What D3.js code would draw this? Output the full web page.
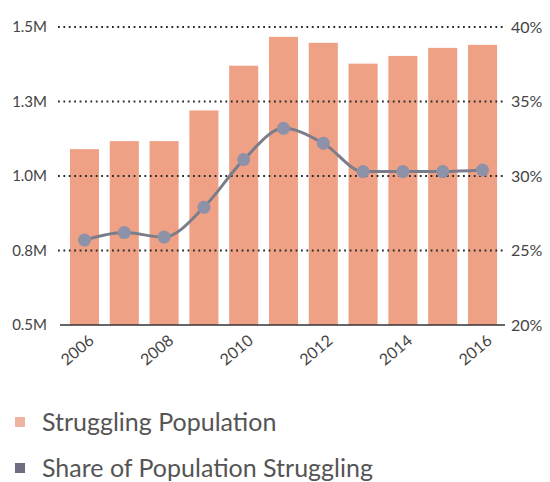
<!DOCTYPE html>
<html>
<head>
<meta charset="utf-8">
<script src="https://cdn.jsdelivr.net/npm/d3@7"></script>
<style>
  html, body { margin: 0; padding: 0; background: #ffffff; }
  svg { display: block; }
  text { font-family: Lato, "Open Sans", sans-serif; }
</style>
</head>
<body>
<svg id="chart" width="550" height="482"></svg>
<script>
// ---- data ----
const years = ["2006","2007","2008","2009","2010","2011","2012","2013","2014","2015","2016"];
const population = [1.09, 1.117, 1.117, 1.22, 1.37, 1.467, 1.447, 1.377, 1.403, 1.43, 1.44];  // millions
const share = [25.7, 26.2, 25.9, 27.9, 31.1, 33.2, 32.2, 30.3, 30.3, 30.3, 30.4];            // percent
const leftTicks = [0.5, 0.75, 1.0, 1.25, 1.5];
const rightTicks = [20, 25, 30, 35, 40];
const xTickLabels = ["2006","2008","2010","2012","2014","2016"];
const legendLabels = ["Struggling Population", "Share of Population Struggling"];

const svg = d3.select("#chart");

const x = d3.scaleBand().domain(years).range([64, 503]).paddingInner(0.27).paddingOuter(0.15);
const yL = d3.scaleLinear().domain([0.5, 1.5]).range([325, 27]);
const yR = d3.scaleLinear().domain([20, 40]).range([325, 27]);

// bars
svg.append("g").selectAll("rect").data(years).join("rect")
  .attr("x", d => x(d))
  .attr("width", x.bandwidth())
  .attr("y", (d, i) => yL(population[i]))
  .attr("height", (d, i) => yL(0.5) - yL(population[i]))
  .attr("fill", "#eea185");

// dotted grid lines (drawn over bars)
svg.append("g").selectAll("line").data(leftTicks.slice(1)).join("line")
  .attr("x1", 58).attr("x2", 504)
  .attr("y1", d => yL(d)).attr("y2", d => yL(d))
  .attr("stroke", "#2a2a2a")
  .attr("stroke-width", 2)
  .attr("stroke-dasharray", "1.8,3.6");

// baseline
svg.append("line")
  .attr("x1", 60).attr("x2", 505)
  .attr("y1", yL(0.5)).attr("y2", yL(0.5))
  .attr("stroke", "#333").attr("stroke-width", 1.6);

// left axis
const fmtL = d3.format(".1f");
const axL = svg.append("g").attr("transform", "translate(50,0)")
  .call(d3.axisLeft(yL).tickValues(leftTicks).tickSize(0).tickPadding(3).tickFormat(d => fmtL(d) + "M"));
axL.select(".domain").remove();
axL.selectAll("text").attr("font-size", 15).attr("fill", "#444").attr("font-family", "Lato, sans-serif");

// right axis
const axR = svg.append("g").attr("transform", "translate(508,0)")
  .call(d3.axisRight(yR).tickValues(rightTicks).tickSize(0).tickPadding(3).tickFormat(d => d + "%"));
axR.select(".domain").remove();
axR.selectAll("text").attr("font-size", 16).attr("fill", "#444").attr("font-family", "Lato, sans-serif");

// x labels
svg.append("g").selectAll("text").data(xTickLabels).join("text")
  .attr("transform", d => `translate(${x(d) + x.bandwidth() / 2 + 7},${yL(0.5) + 13}) rotate(-40)`)
  .attr("text-anchor", "end")
  .attr("dy", "0.35em")
  .attr("font-size", 16)
  .attr("fill", "#444")
  .text(d => d);

// share line
const line = d3.line()
  .x((d, i) => x(years[i]) + x.bandwidth() / 2)
  .y(d => yR(d))
  .curve(d3.curveMonotoneX);

svg.append("path").datum(share)
  .attr("d", line)
  .attr("fill", "none")
  .attr("stroke", "#7b7d8a")
  .attr("stroke-width", 3);

svg.append("g").selectAll("circle").data(share).join("circle")
  .attr("cx", (d, i) => x(years[i]) + x.bandwidth() / 2)
  .attr("cy", d => yR(d))
  .attr("r", 6.5)
  .attr("fill", "#8d92a8");

// legend
const legendColors = ["#f0b3a2", "#6f6b80"];
const lg = svg.append("g").selectAll("g").data(legendLabels).join("g")
  .attr("transform", (d, i) => `translate(0,${422 + i * 46})`);
lg.append("rect").attr("x", 15).attr("y", -5).attr("width", 10).attr("height", 10)
  .attr("fill", (d, i) => legendColors[i]);
lg.append("text").attr("x", 42).attr("dy", "0.36em")
  .attr("font-size", 25).attr("fill", "#555")
  .text(d => d);
</script>
</body>
</html>
